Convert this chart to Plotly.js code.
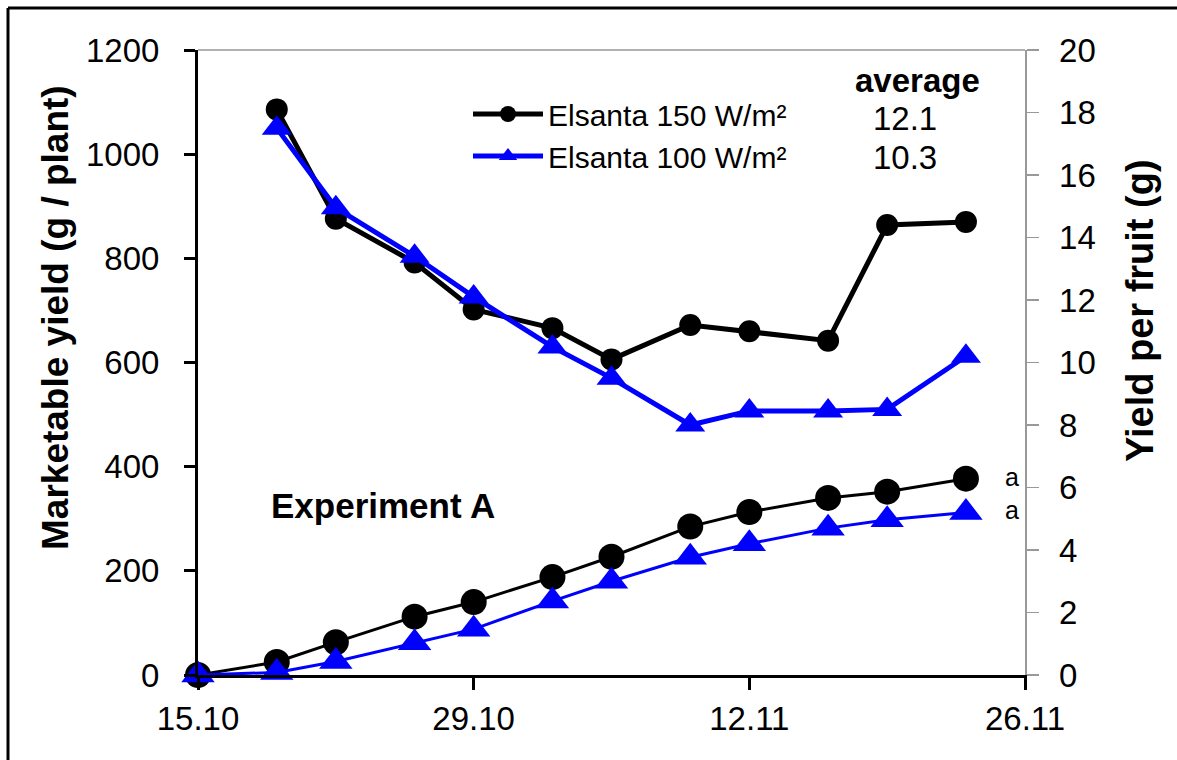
<!DOCTYPE html>
<html>
<head>
<meta charset="utf-8">
<script src="https://cdn.plot.ly/plotly-3.0.1.min.js"></script>
<style>
html,body{margin:0;padding:0;background:#fff;}
#chart{width:1177px;height:760px;}
</style>
</head>
<body>
<div id="chart"></div>
<script>
// ---- data ----
const dates = ['2010-10-15','2010-10-19','2010-10-22','2010-10-26','2010-10-29','2010-11-02',
               '2010-11-05','2010-11-09','2010-11-12','2010-11-16','2010-11-19','2010-11-23'];
// cumulative marketable yield (g / plant), left axis
const yield150 = [0, 25, 63, 112, 140, 188, 227, 285, 313, 340, 352, 377];
const yield100 = [0, 5, 26, 62, 88, 142, 180, 226, 252, 282, 298, 312];
// yield per fruit (g), right axis
const fruit150 = [null, 18.1, 14.6, 13.2, 11.7, 11.1, 10.1, 11.2, 11.0, 10.7, 14.4, 14.5];
const fruit100 = [null, 17.5, 14.95, 13.4, 12.1, 10.5, 9.5, 8.0, 8.45, 8.45, 8.5, 10.2];
const seriesNames = ['Elsanta 150 W/m²', 'Elsanta 100 W/m²'];
const averages = ['12.1', '10.3'];
const significance = ['a', 'a'];
const xTicks = ['2010-10-15','2010-10-29','2010-11-12','2010-11-26'];
const xTickText = ['15.10','29.10','12.11','26.11'];

const FONT = 'Liberation Sans, Arial, sans-serif';
const BLACK = '#000000', BLUE = '#0000FF';

const traces = [
  {x: dates, y: fruit150, yaxis: 'y2', name: seriesNames[0], mode: 'lines+markers',
   line: {color: BLACK, width: 5}, marker: {symbol: 'circle', size: 22, color: BLACK},
   cliponaxis: false, showlegend: true},
  {x: dates, y: yield150, yaxis: 'y', name: seriesNames[0], mode: 'lines+markers',
   line: {color: BLACK, width: 3}, marker: {symbol: 'circle', size: 26, color: BLACK},
   cliponaxis: false, showlegend: false},
  {x: dates, y: fruit100, yaxis: 'y2', name: seriesNames[1], mode: 'lines+markers',
   line: {color: BLUE, width: 5}, marker: {symbol: 'triangle-up', size: 26, color: BLUE},
   cliponaxis: false, showlegend: true},
  {x: dates, y: yield100, yaxis: 'y', name: seriesNames[1], mode: 'lines+markers',
   line: {color: BLUE, width: 3}, marker: {symbol: 'triangle-up', size: 29, color: BLUE},
   cliponaxis: false, showlegend: false}
];

const L = 198, R = 1025, T = 50, B = 675;
const px = v => (v - L) / (R - L);
const py = v => (B - v) / (B - T);

function note(text, x, y, size, angle) {
  return {text: text, xref: 'paper', yref: 'paper', x: px(x), y: py(y),
          xanchor: 'center', yanchor: 'middle', textangle: angle || 0, showarrow: false,
          font: {family: FONT, size: size, color: '#000'}};
}

const layout = {
  width: 1177, height: 760,
  margin: {l: L, r: 1177 - R, t: T, b: 760 - B},
  paper_bgcolor: '#fff', plot_bgcolor: '#fff',
  font: {family: FONT, color: '#000', size: 32},
  showlegend: true,
  legend: {x: px(468), y: py(88), xanchor: 'left', yanchor: 'top',
           bgcolor: 'rgba(0,0,0,0)', borderwidth: 0, itemwidth: 70,
           font: {family: FONT, size: 30, color: '#000'}, traceorder: 'normal'},
  xaxis: {type: 'date', range: ['2010-10-15', '2010-11-26'],
          tickmode: 'array', tickvals: xTicks, ticktext: xTickText,
          showline: true, linecolor: BLACK, linewidth: 3,
          ticks: 'outside', ticklen: 12, tickwidth: 3, tickcolor: BLACK,
          showgrid: false, zeroline: false, ticklabelstandoff: 0,
          tickfont: {family: FONT, size: 33, color: '#000'}},
  yaxis: {range: [0, 1200], dtick: 200, tick0: 0,
          showline: true, linecolor: BLACK, linewidth: 3,
          ticks: 'outside', ticklen: 11, tickwidth: 3, tickcolor: BLACK,
          showgrid: false, zeroline: false, ticklabelstandoff: 18,
          tickfont: {family: FONT, size: 33, color: '#000'}},
  yaxis2: {range: [0, 20], dtick: 2, tick0: 0, overlaying: 'y', side: 'right',
           showline: true, linecolor: '#999', linewidth: 1.5,
           ticks: 'outside', ticklen: 12, tickwidth: 1.5, tickcolor: '#999',
           showgrid: false, zeroline: false, ticklabelstandoff: 14,
           tickfont: {family: FONT, size: 33, color: '#000'}},
  shapes: [
    {type: 'line', xref: 'paper', yref: 'paper', x0: 0, x1: 1, y0: 1, y1: 1,
     line: {color: '#999', width: 1.5}},
    {type: 'line', xref: 'paper', yref: 'paper', x0: px(8), x1: px(8), y0: py(8), y1: py(800),
     line: {color: BLACK, width: 3}},
    {type: 'line', xref: 'paper', yref: 'paper', x0: px(8), x1: px(1200), y0: py(8), y1: py(8),
     line: {color: BLACK, width: 3}}
  ],
  annotations: [
    note('<b>Marketable yield (g / plant)</b>', 55, 318, 37, -90),
    note('<b>Yield per fruit (g)</b>', 1140, 311, 38, -90),
    note('<b>average</b>', 917, 80, 33),
    note(averages[0], 905, 118, 33),
    note(averages[1], 905, 157, 33),
    note('<b>Experiment A</b>', 383, 505, 35),
    note(significance.join('<br>'), 1012, 494, 25)
  ]
};

Plotly.newPlot('chart', traces, layout, {displayModeBar: false, staticPlot: true});
</script>
</body>
</html>
